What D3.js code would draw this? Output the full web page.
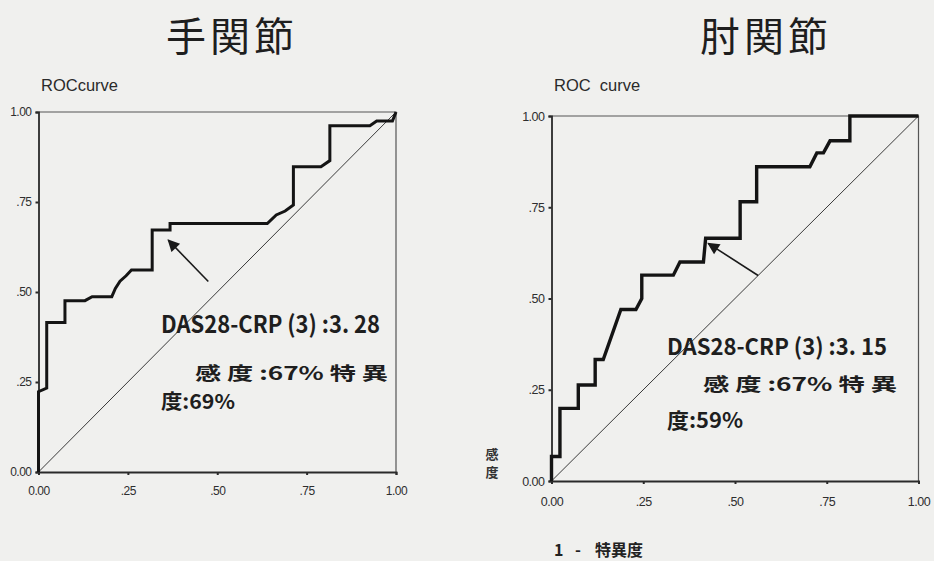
<!DOCTYPE html>
<html>
<head>
<meta charset="utf-8">
<script src="https://cdn.jsdelivr.net/npm/d3@7"></script>
<style>
  html, body { margin: 0; padding: 0; background: #f0f0ee; }
  svg { display: block; }
</style>
</head>
<body>
<svg id="chart" width="934" height="561"></svg>
<script>
// ROC curve vertices (1 - specificity, sensitivity) for each joint
const wristFpr = [0, 0, 0.023, 0.023, 0.074, 0.074, 0.13, 0.15, 0.205, 0.215, 0.228, 0.245, 0.26, 0.318, 0.318, 0.368, 0.368, 0.64, 0.665, 0.69, 0.713, 0.713, 0.79, 0.815, 0.815, 0.927, 0.946, 0.99, 1.0];
const wristTpr = [0, 0.223, 0.233, 0.415, 0.415, 0.476, 0.476, 0.487, 0.487, 0.51, 0.53, 0.545, 0.561, 0.561, 0.672, 0.672, 0.69, 0.69, 0.714, 0.725, 0.742, 0.848, 0.848, 0.865, 0.962, 0.962, 0.975, 0.975, 1.0];

const elbowFpr = [0, 0, 0.023, 0.023, 0.073, 0.073, 0.119, 0.119, 0.141, 0.189, 0.23, 0.246, 0.246, 0.332, 0.35, 0.414, 0.42, 0.514, 0.514, 0.559, 0.559, 0.704, 0.723, 0.741, 0.759, 0.813, 0.813, 1.0];
const elbowTpr = [0, 0.067, 0.067, 0.199, 0.199, 0.263, 0.263, 0.333, 0.333, 0.47, 0.47, 0.5, 0.564, 0.564, 0.6, 0.6, 0.665, 0.665, 0.765, 0.765, 0.861, 0.861, 0.899, 0.899, 0.932, 0.932, 1.0, 1.0];

const tickValues = [0, 0.25, 0.5, 0.75, 1];
const tickLabels = ["0.00", ".25", ".50", ".75", "1.00"];

const titles = ["手関節", "肘関節"];
const subtitles = ["ROCcurve", "ROC  curve"];

// cut-off annotations: three text lines each, and the arrow (tail -> tip) in data units
const wristNote = ["DAS28-CRP (3) :3. 28", "感 度 :67% 特 異", "度:69%"];
const elbowNote = ["DAS28-CRP (3) :3. 15", "感 度 :67% 特 異", "度:59%"];
const wristArrow = [[0.475, 0.529], [0.363, 0.644]];
const elbowArrow = [[0.563, 0.563], [0.427, 0.651]];

const svg = d3.select("#chart");

svg.append("defs").append("marker")
  .attr("id", "head")
  .attr("viewBox", "0 0 10 10")
  .attr("refX", 9).attr("refY", 5)
  .attr("markerWidth", 14).attr("markerHeight", 12)
  .attr("markerUnits", "userSpaceOnUse")
  .attr("orient", "auto")
  .append("path")
  .attr("d", "M0,0 L10,5 L0,10 Z")
  .attr("fill", "#1a1a1a");

const noteFont = "'Noto Sans CJK JP', 'DejaVu Sans', sans-serif";

function panel(cfg) {
  const x = d3.scaleLinear().domain([0, 1]).range([cfg.x0, cfg.x1]);
  const y = d3.scaleLinear().domain([0, 1]).range([cfg.y0, cfg.y1]);
  const g = svg.append("g");

  // title and subtitle
  g.append("text")
    .attr("x", cfg.titleX).attr("y", 51)
    .attr("text-anchor", "middle")
    .attr("font-family", "'Noto Sans CJK JP', sans-serif")
    .attr("font-size", 40)
    .attr("letter-spacing", 4)
    .attr("fill", "#1e1e1e")
    .text(cfg.title);
  g.append("text")
    .attr("x", cfg.subX).attr("y", 91)
    .attr("font-family", "'Liberation Sans', Arial, sans-serif")
    .attr("font-size", 16.5)
    .attr("fill", "#2a2a2a")
    .attr("xml:space", "preserve")
    .style("white-space", "pre")
    .text(cfg.subtitle);

  // thin frame (top and right)
  g.append("path")
    .attr("d", `M${x(0)},${y(1)} H${x(1)} V${y(0)}`)
    .attr("fill", "none").attr("stroke", "#555").attr("stroke-width", 1.2);

  // reference diagonal
  g.append("line")
    .attr("x1", x(0)).attr("y1", y(0)).attr("x2", x(1)).attr("y2", y(1))
    .attr("stroke", "#3a3a3a").attr("stroke-width", 1);

  // axes
  const fmt = (d, i) => tickLabels[i];
  const yAxis = g.append("g").attr("transform", `translate(${x(0)},0)`)
    .call(d3.axisLeft(y).tickValues(tickValues).tickFormat(fmt).tickSize(3).tickPadding(cfg.yPad));
  const xAxis = g.append("g").attr("transform", `translate(0,${y(0)})`)
    .call(d3.axisBottom(x).tickValues(tickValues).tickFormat(fmt).tickSize(3).tickPadding(cfg.xPad));
  [yAxis, xAxis].forEach(a => {
    a.select(".domain").attr("stroke", "#2a2a2a").attr("stroke-width", 1.8);
    a.selectAll(".tick line").attr("stroke", "#2a2a2a").attr("stroke-width", 2);
    a.selectAll(".tick text")
      .attr("font-family", "'Liberation Sans', Arial, sans-serif")
      .attr("font-size", cfg.tickSize)
      .attr("letter-spacing", -0.5)
      .attr("fill", "#2e2e2e");
  });

  // ROC curve
  const pts = cfg.fpr.map((f, i) => [f, cfg.tpr[i]]);
  g.append("path")
    .datum(pts)
    .attr("d", d3.line().x(d => x(d[0])).y(d => y(d[1])))
    .attr("fill", "none")
    .attr("stroke", "#141414")
    .attr("stroke-width", cfg.curveW)
    .attr("stroke-linejoin", "miter");

  // arrow to the cut-off point
  g.append("line")
    .attr("x1", x(cfg.arrow[0][0])).attr("y1", y(cfg.arrow[0][1]))
    .attr("x2", x(cfg.arrow[1][0])).attr("y2", y(cfg.arrow[1][1]))
    .attr("stroke", "#1a1a1a").attr("stroke-width", 1.6)
    .attr("marker-end", "url(#head)");

  // annotation lines
  cfg.lines.forEach((l, i) => {
    g.append("text")
      .attr("x", l.x).attr("y", l.y)
      .attr("font-family", noteFont)
      .attr("font-size", l.size)
      .attr("font-weight", 600)
      .attr("fill", "#1e1e1e")
      .attr("textLength", l.w)
      .attr("lengthAdjust", "spacingAndGlyphs")
      .attr("xml:space", "preserve")
      .style("white-space", "pre")
      .text(cfg.note[i]);
  });
  return { x, y, g };
}

panel({
  x0: 38.5, x1: 396, y0: 472, y1: 112,
  title: titles[0], titleX: 232, subtitle: subtitles[0], subX: 41,
  yPad: 4, xPad: 11, tickSize: 12, curveW: 3,
  fpr: wristFpr, tpr: wristTpr, arrow: wristArrow, note: wristNote,
  lines: [
    { x: 161, y: 333, size: 24, w: 219 },
    { x: 195, y: 380, size: 18, w: 193 },
    { x: 161, y: 409, size: 20, w: 74 }
  ]
});

panel({
  x0: 551.5, x1: 918.5, y0: 481, y1: 116,
  title: titles[1], titleX: 766, subtitle: subtitles[1], subX: 554,
  yPad: 4, xPad: 13, tickSize: 12.5, curveW: 3.4,
  fpr: elbowFpr, tpr: elbowTpr, arrow: elbowArrow, note: elbowNote,
  lines: [
    { x: 667, y: 355, size: 23, w: 220 },
    { x: 703, y: 391, size: 18, w: 194 },
    { x: 667, y: 428, size: 21, w: 76 }
  ]
});

// axis titles for the elbow panel (sensitivity written vertically)
const axisTitleFont = "'Noto Sans CJK JP', sans-serif";
["感", "度"].forEach((ch, i) => {
  svg.append("text")
    .attr("x", 492).attr("y", 459 + i * 18)
    .attr("text-anchor", "middle")
    .attr("font-family", axisTitleFont)
    .attr("font-size", 13)
    .attr("font-weight", 700)
    .attr("fill", "#333")
    .text(ch);
});

const xTitle = svg.append("text")
  .attr("y", 556)
  .attr("font-family", axisTitleFont)
  .attr("font-size", 16)
  .attr("font-weight", 700)
  .attr("fill", "#222");
xTitle.append("tspan").attr("x", 554).text("1");
xTitle.append("tspan").attr("x", 575).text("-");
xTitle.append("tspan").attr("x", 595).text("特異度");
</script>
</body>
</html>
